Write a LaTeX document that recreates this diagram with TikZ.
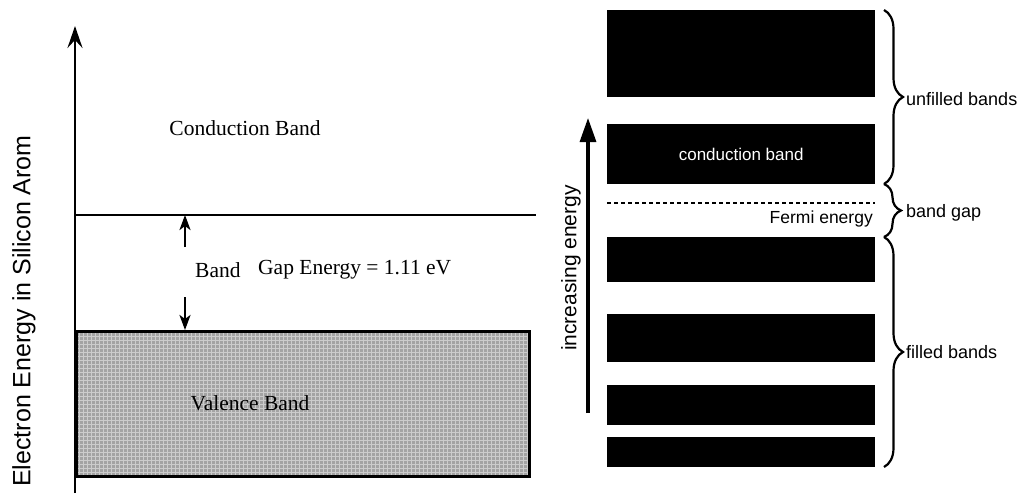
\documentclass[tikz,border=0pt]{standalone}
\usepackage{fontspec}
\setmainfont{Liberation Serif}
\newfontfamily\sansf{Liberation Sans}
\usetikzlibrary{arrows.meta,decorations.pathreplacing}
\begin{document}
\begin{tikzpicture}[x=1pt,y=-1pt,
  serlbl/.style={font=\fontsize{21.5}{24}\selectfont, inner sep=0pt},
  sanslbl/.style={font=\sansf\fontsize{18}{21}\selectfont, inner sep=0pt},
  bandbar/.style={fill=black, draw=none, anchor=north west, minimum width=268pt, inner sep=0pt},
  thickline/.style={line width=2.8pt},
  bracestyle/.style={decorate, decoration={brace, amplitude=19pt}, line width=2.2pt}
]
\useasboundingbox (0,0) rectangle (1023,495);

% ---------- left panel ----------
\coordinate (axbot) at (75,493);
\coordinate (axtop) at (75,26);
\draw[thickline, -{Stealth[length=22pt,width=15pt,inset=8pt]}] (axbot) -- (axtop);

\coordinate (cl) at (75,215);
\coordinate (cr) at (536,215);
\draw[thickline] (cl) -- (cr);

\node[draw, line width=2.8pt, fill=gray!72, anchor=north west, minimum width=453pt, minimum height=145pt, inner sep=0pt,
  path picture={\draw[gray!40, line width=0.8pt] (path picture bounding box.south west) grid[step=4pt] (path picture bounding box.north east);}]
  (valrect) at (75,330) {};

\coordinate (gu1) at (185,247);
\coordinate (gu2) at (185,215);
\coordinate (gd1) at (185,297);
\coordinate (gd2) at (185,330);
\draw[line width=2.4pt, -{Stealth[length=15pt,width=11pt,inset=4pt]}] (gu1) -- (gu2);
\draw[line width=2.4pt, -{Stealth[length=15pt,width=11pt,inset=4pt]}] (gd1) -- (gd2);

\node[serlbl] (cond) at (245,128) {Conduction Band};
\node[serlbl, anchor=west] (bandw) at (195,270) {Band};
\node[serlbl, anchor=west] (gapw) at (258,270) {Gap Energy = 1.11 eV};
\node[serlbl] (val) at (250,403) {Valence Band};

\node[rotate=90, font=\sansf\fontsize{25}{28}\selectfont, inner sep=0pt] (ylab) at (24,311) {Electron Energy in Silicon Arom};

% ---------- right panel ----------
\node[bandbar, minimum height=87pt] (b1) at (607,10) {};
\node[bandbar, minimum height=60pt, text=white, font=\sansf\fontsize{17}{20}\selectfont] (b2) at (607,124) {conduction band};
\node[bandbar, minimum height=45pt] (b3) at (607,237) {};
\node[bandbar, minimum height=48pt] (b4) at (607,314) {};
\node[bandbar, minimum height=40pt] (b5) at (607,385) {};
\node[bandbar, minimum height=30pt] (b6) at (607,437) {};

\coordinate (fl) at (607,203);
\coordinate (fr) at (875,203);
\draw[line width=2pt, dash pattern=on 4pt off 3pt] (fl) -- (fr);
\node[sanslbl, font=\sansf\fontsize{17.5}{20}\selectfont, anchor=east] (fermi) at (873,219) {Fermi energy};

\coordinate (ea1) at (588,413);
\coordinate (ea2) at (588,118);
\draw[line width=3.2pt, -{Triangle[length=24pt,width=16pt]}] (ea1) -- (ea2);
\node[rotate=90, font=\sansf\fontsize{21}{24}\selectfont, inner sep=0pt] (inc) at (571,268) {increasing energy};

\coordinate (u1) at (884,10);
\coordinate (u2) at (884,184);
\coordinate (g1) at (884,184);
\coordinate (g2) at (884,237);
\coordinate (f1) at (884,237);
\coordinate (f2) at (884,467);
\draw[bracestyle] (u1) -- (u2);
\draw[bracestyle, decoration={brace, amplitude=17pt}] (g1) -- (g2);
\draw[bracestyle] (f1) -- (f2);

\node[sanslbl, anchor=west] (unf) at (906,99) {unfilled bands};
\node[sanslbl, anchor=west] (gapl) at (906,213) {band gap};
\node[sanslbl, anchor=west] (fil) at (906,352) {filled bands};
\end{tikzpicture}
\end{document}
